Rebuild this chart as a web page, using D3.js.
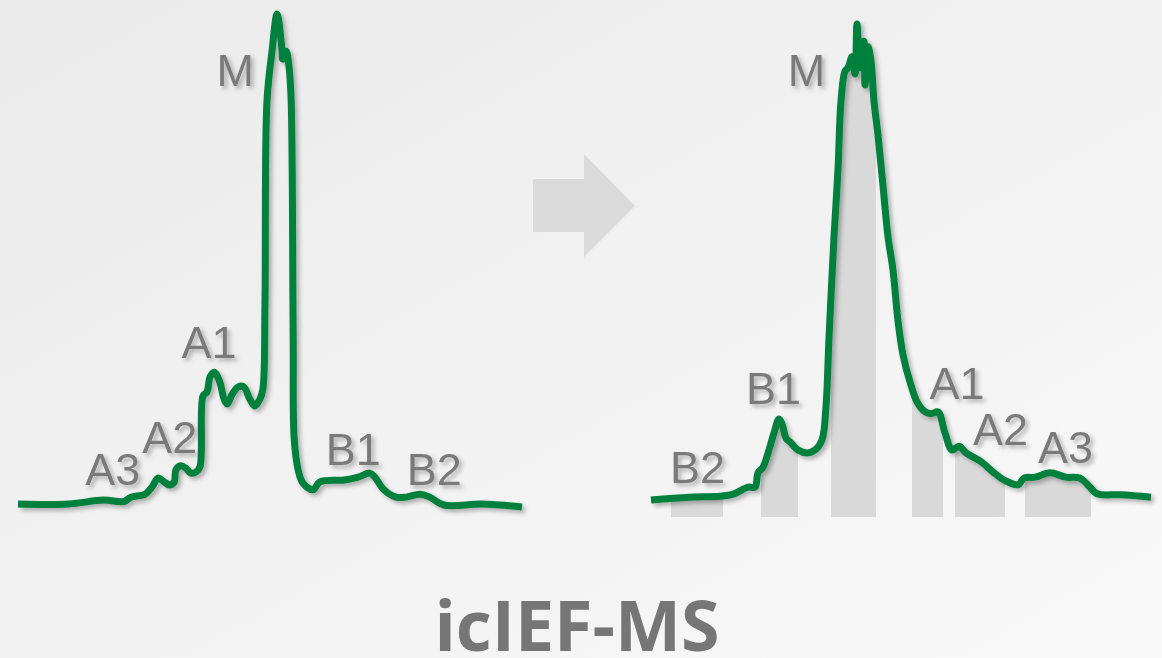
<!DOCTYPE html>
<html>
<head>
<meta charset="utf-8">
<script src="https://cdn.jsdelivr.net/npm/d3@7"></script>
<style>
  html, body { margin: 0; padding: 0; overflow: hidden; }
  svg { display: block; }
</style>
</head>
<body>
<svg id="chart" width="1162" height="658"></svg>
<script>
// before: icIEF trace (position 0-100, intensity 0-100)
var leftX = [0, 10.1, 16.9, 21.0, 22.4, 25.2, 26.6, 27.8, 29.0, 30.0, 31.0, 31.3, 32.3, 33.3, 34.3, 35.3, 36.1,
    36.7, 37.5, 38.1, 38.9, 39.9, 40.9, 41.5, 42.5, 43.7, 44.8, 46.0, 47.0, 48.0, 48.6, 49.0, 49.4, 50.4, 51.4,
    52.4, 52.5, 53.2, 53.8, 54.2, 54.6, 54.8, 55.6, 56.5, 58.5, 59.9, 64.7, 67.5, 69.8, 70.8, 72.6, 75.0, 77.0,
    79.8, 81.7, 84.5, 92.1, 100];
var leftY = [0, 0, 0.8, 0.5, 1.4, 2.0, 3.5, 5.3, 4.5, 3.9, 4.5, 6.9, 7.8, 7.3, 6.3, 6.5, 7.6,
    22.0, 22.9, 25.9, 26.9, 25.3, 21.4, 20.4, 22.4, 23.9, 23.9, 21.4, 20.0, 21.4, 23.5, 40.8, 82.2, 92.4, 100,
    92.4, 90.8, 92.4, 89.0, 82.2, 33.9, 13.3, 6.9, 4.3, 2.9, 4.5, 4.9, 5.5, 6.3, 5.5, 2.9, 1.4, 1.4,
    2.0, 1.4, -0.2, 0, -0.6];

// after: icIEF-MS trace
var rightX = [0, 7.6, 13.8, 16.6, 19.4, 20.8, 21.4, 22.4, 23.6, 24.6, 25.6, 26.2, 27.0, 28.0, 29.4, 31.2, 32.8,
    34.2, 35.0, 35.6, 36.6, 37.4, 38.0, 38.8, 39.4, 40.2, 40.8, 41.2, 41.8, 42.6, 42.8, 43.4, 44.0, 44.6, 45.4,
    46.4, 47.4, 48.4, 49.4, 50.4, 51.8, 53.2, 54.6, 56.0, 57.4, 58.8, 60.2, 61.6, 63.0, 65.8, 68.4, 70.6, 73.4,
    74.6, 76.8, 79.8, 83.0, 85.8, 87.8, 89.2, 94.0, 100];
var rightY = [0, 0.6, 0.8, 1.3, 2.7, 2.7, 5.7, 6.9, 10.5, 14.1, 17.0, 16.0, 13.0, 12.0, 10.5, 9.9, 10.5,
    12.6, 19.7, 34.0, 55.3, 69.5, 83.8, 90.1, 90.8, 93.1, 89.5, 100, 90.8, 96.4, 87.2, 95.2, 92.2, 83.8, 76.7,
    66.0, 55.3, 48.3, 37.6, 30.5, 24.8, 20.6, 18.7, 18.1, 18.5, 14.1, 10.5, 11.3, 9.9, 8.2, 5.9, 4.2, 3.2,
    4.6, 4.8, 5.7, 4.8, 4.6, 2.7, 1.3, 1.1, 0.6];

// collected fractions (start, end) under the MS trace
var fractionStart = [4.0, 22.0, 36.0, 52.2, 60.8, 74.8];
var fractionEnd   = [14.4, 29.4, 45.0, 58.4, 70.8, 88.0];

// peak labels
var peakNames = ["M", "A1", "A2", "A3", "B1", "B2"];
var leftLabelX = [43.1, 37.9, 30.1, 18.8, 66.5, 82.6];
var leftLabelY = [85.3, 29.8, 10.4, 3.9, 8.0, 3.9];
var rightLabelX = [31.1, 61.2, 69.9, 82.9, 24.5, 9.3];
var rightLabelY = [87.0, 21.2, 11.6, 7.8, 20.2, 3.6];

var title = "icIEF-MS";

var W = 1162, H = 658;
var green = "#00803e", labelGray = "#7a7a7a";

var svg = d3.select("#chart");
var defs = svg.append("defs");

var bg = defs.append("linearGradient").attr("id", "bg")
    .attr("x1", "0").attr("y1", "0").attr("x2", "1").attr("y2", "1");
bg.append("stop").attr("offset", "0").attr("stop-color", "#eaeaea");
bg.append("stop").attr("offset", "1").attr("stop-color", "#f9f9f9");

var shadow = defs.append("filter").attr("id", "shadow")
    .attr("x", "-10%").attr("y", "-10%").attr("width", "130%").attr("height", "130%");
shadow.append("feDropShadow").attr("dx", 3).attr("dy", 3).attr("stdDeviation", 2)
    .attr("flood-color", "#000").attr("flood-opacity", 0.28);

svg.append("rect").attr("width", W).attr("height", H).attr("fill", "url(#bg)");

// scales
var xL = d3.scaleLinear().domain([0, 100]).range([18, 522]);
var yL = d3.scaleLinear().domain([0, 100]).range([504, 14]);
var xR = d3.scaleLinear().domain([0, 100]).range([651, 1151]);
var yR = d3.scaleLinear().domain([0, 100]).range([500, 24]);

var leftData = leftX.map(function(d, i) { return {x: d, y: leftY[i]}; });
var rightData = rightX.map(function(d, i) { return {x: d, y: rightY[i]}; });

// gray fraction bars = area under MS trace inside each window
var barBottom = yR(0) + 17;
var fractions = fractionStart.map(function(s, i) { return {s: s, e: fractionEnd[i]}; });

function interpY(data, x) {
    for (var i = 1; i < data.length; i++) {
        if (data[i].x >= x) {
            var a = data[i - 1], b = data[i];
            var t = (x - a.x) / (b.x - a.x || 1);
            return a.y + t * (b.y - a.y);
        }
    }
    return data[data.length - 1].y;
}

var barArea = d3.area()
    .x(function(d) { return xR(d.x); })
    .y0(barBottom)
    .y1(function(d) { return yR(d.y); });

svg.append("g").selectAll("path")
    .data(fractions)
    .enter().append("path")
    .attr("fill", "#d9d9d9")
    .attr("d", function(f) {
        var pts = [{x: f.s, y: interpY(rightData, f.s)}];
        rightData.forEach(function(d) { if (d.x > f.s && d.x < f.e) pts.push(d); });
        pts.push({x: f.e, y: interpY(rightData, f.e)});
        return barArea(pts);
    });

// arrow
var arrow = d3.path();
arrow.moveTo(533, 179); arrow.lineTo(584, 179); arrow.lineTo(584, 154); arrow.lineTo(635, 206);
arrow.lineTo(584, 257); arrow.lineTo(584, 232); arrow.lineTo(533, 232); arrow.closePath();
svg.append("path").attr("d", arrow.toString()).attr("fill", "#dadada");

// traces
function drawTrace(data, xs, ys) {
    var line = d3.line()
        .x(function(d) { return xs(d.x); })
        .y(function(d) { return ys(d.y); })
        .curve(d3.curveCatmullRom.alpha(0.5));
    svg.append("path")
        .datum(data)
        .attr("fill", "none")
        .attr("stroke", green)
        .attr("stroke-width", 7)
        .attr("stroke-linejoin", "round")
        .attr("stroke-linecap", "butt")
        .attr("filter", "url(#shadow)")
        .attr("d", line);
}
drawTrace(leftData, xL, yL);
drawTrace(rightData, xR, yR);

// peak labels
function drawLabels(lx, ly, xs, ys) {
    svg.append("g").selectAll("text")
        .data(peakNames)
        .enter().append("text")
        .attr("x", function(d, i) { return xs(lx[i]); })
        .attr("y", function(d, i) { return ys(ly[i]); })
        .attr("text-anchor", "middle")
        .attr("font-family", "'Liberation Sans', Arial, sans-serif")
        .attr("font-size", 45)
        .attr("fill", labelGray)
        .attr("filter", "url(#shadow)")
        .text(function(d) { return d; });
}
drawLabels(leftLabelX, leftLabelY, xL, yL);
drawLabels(rightLabelX, rightLabelY, xR, yR);

// title
svg.append("text")
    .attr("x", 577)
    .attr("y", 651)
    .attr("text-anchor", "middle")
    .attr("font-family", "'Open Sans', sans-serif")
    .attr("font-weight", 700)
    .attr("font-size", 70)
    .attr("fill", "#767676")
    .text(title);
</script>
</body>
</html>
